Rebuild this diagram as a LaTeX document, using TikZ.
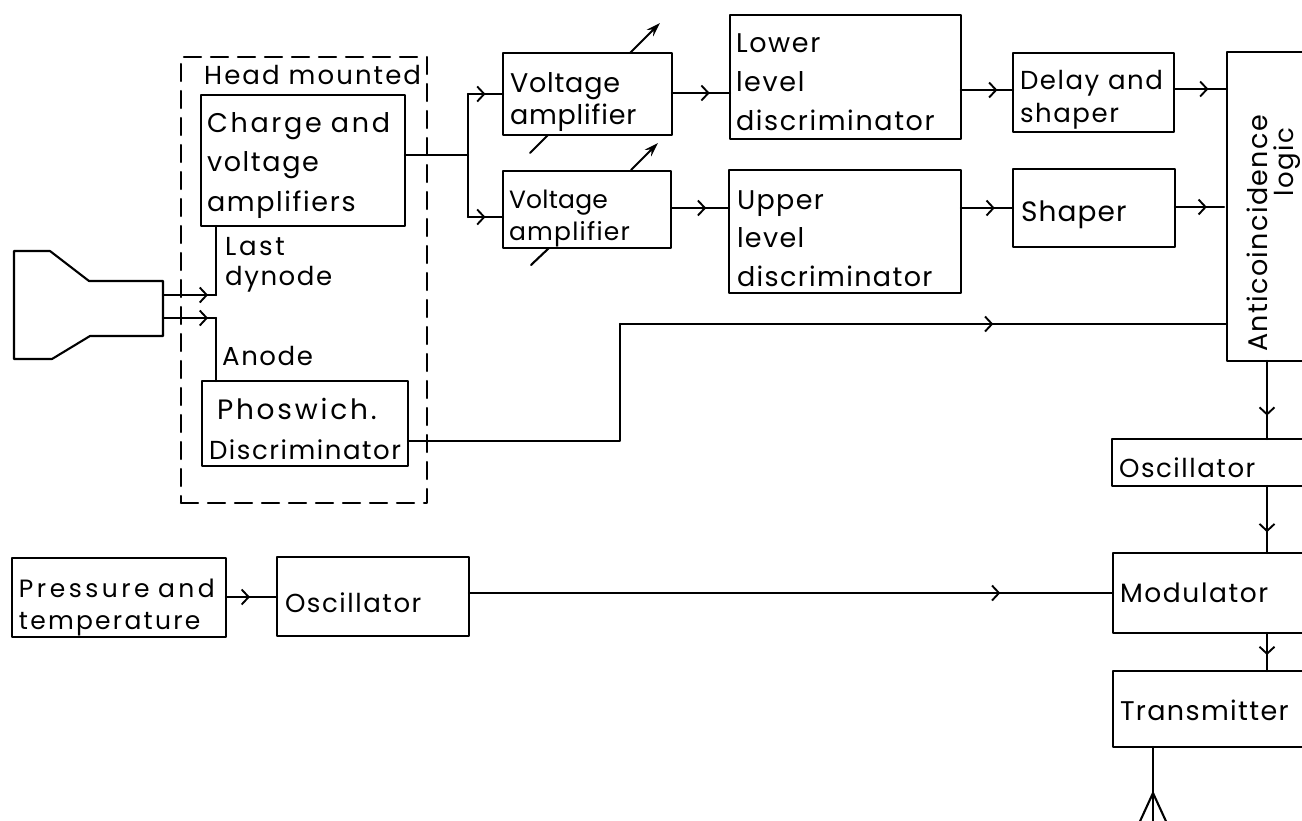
\documentclass[tikz,border=0pt]{standalone}
\usepackage{fontspec}
\setmainfont{Poppins}
\usetikzlibrary{arrows.meta,decorations.markings,calc}
\newcommand{\fs}[3]{\fontsize{#1}{#2}\selectfont\addfontfeature{LetterSpace=#3}}
\newcommand{\ls}[1]{\addfontfeature{LetterSpace=#1}}
\newcommand{\dn}[1]{\rule{0pt}{#1pt}}
\tikzset{
  ln/.style={line width=2.1pt,line cap=round,line join=round},
  box/.style={ln,draw,fill=white,rectangle,inner ysep=0pt,outer sep=0pt,align=left,font=\fs{27}{38}{6}},
  lab/.style={inner sep=0pt,anchor=west,align=left,font=\fs{26}{35}{6}},
  arr/.style={postaction={decorate},decoration={markings,mark=at position #1 with {\arrow[line width=1.9pt]{Straight Barb[length=7pt,width=15pt]}}}},
  tip/.style={-{Stealth[length=14pt,width=9pt]}}
}
\newcommand{\bx}[8][]{%
  \pgfmathsetmacro{\bw}{#6-#4}\pgfmathsetmacro{\bh}{#7-#5}%
  \pgfmathsetmacro{\bt}{\bw-2*#3}%
  \node[box,minimum width=\bw pt,minimum height=\bh pt,text width=\bt pt,inner xsep=#3 pt,#1] (#2) at ({(#4+#6)/2},{(#5+#7)/2}) {#8};}
\begin{document}
\begin{tikzpicture}[x=1pt,y=-1pt]
\useasboundingbox (0,0) rectangle (1302,820);
\clip (0,0) rectangle (1302,820);
% head-mounted enclosure
\node[ln,draw,dashed,dash pattern=on 17pt off 10pt,rectangle,minimum width=246pt,minimum height=446pt,inner sep=0pt] (head) at (304,280) {};
\node[lab,font=\fs{26}{28}{8}] (headl) at (204,75) {Head mounted};
% boxes
\bx[font=\fs{27}{39.5}{6}]{charge}{6}{201}{95}{405}{226}{\dn{30}{\ls{10}Charge and}\\voltage\\amplifiers}
\bx[font=\fs{26}{40}{6}]{phos}{7}{202}{381}{408}{466}{\dn{32}\hspace*{8pt}{\fontsize{28}{40}\selectfont\ls{10}Phoswich.}\\Discriminator}
\bx[font=\fs{27}{32}{3}]{va1}{7}{503}{53}{672}{135}{\dn{36}Voltage\\amplifier}
\bx[font=\fs{25}{32}{5}]{va2}{6}{503}{171}{671}{248}{\dn{36}{\ls{1}Voltage}\\amplifier}
\bx[font=\fs{27}{39}{6}]{lld}{6}{730}{15}{961}{139}{\dn{30}Lower\\level\\discriminator}
\bx[font=\fs{27}{38.5}{5}]{uld}{8}{729}{170}{961}{293}{\dn{33}Upper\\level\\discriminator}
\bx[font=\fs{26}{33}{6}]{delay}{7}{1013}{53}{1174}{132}{\dn{34}Delay and\\shaper}
\bx[font=\fs{28}{30}{4}]{shaper}{8}{1013}{169}{1175}{247}{\dn{34}Shaper}
\bx{anti}{4}{1227}{52}{1340}{361}{}
\bx[font=\fs{26}{30}{6}]{osc}{7}{1112}{439}{1340}{486}{\dn{30}Oscillator}
\bx[font=\fs{26.5}{30}{6}]{mod}{7}{1113}{553}{1340}{633}{Modulator}
\bx[font=\fs{27}{30}{5}]{trans}{7}{1113}{671}{1340}{747}{\dn{24}Transmitter}
\bx[font=\fs{25}{32}{9}]{press}{7}{12}{558}{226}{637}{\dn{38}\mbox{\ls{14}Pressure and}\\temperature}
\bx[font=\fs{26}{30}{6}]{osc2}{8}{277}{557}{469}{636}{\dn{32}Oscillator}
% labels
\node[lab,rotate=90,anchor=west,font=\fs{27}{30}{5}] (antil) at (1257,352) {Anticoincidence};
\node[lab,rotate=90,anchor=west,font=\fs{26}{30}{6}] (logicl) at (1287,197) {logic};
\node[lab,font=\fs{26}{35}{10}] (last) at (225,247) {Last};
\node[lab] (dyn) at (225,279) {dynode};
\node[lab] (anode) at (222,356) {Anode};
% photomultiplier
\node[inner sep=0pt] (pm) at (163,307) {};
\draw[ln] (14,251) -- (50,251) -- (89,281) -- (163,281) -- (pm.center) -- (163,336) -- (90,336) -- (52,359) -- (14,359) -- cycle;
% inputs from the tube
\coordinate (dy1) at (163,295); \coordinate (dy2) at (216,295); \coordinate (an1) at (163,318); \coordinate (an2) at (216,318);
\draw[ln,arr=0.85] (dy1) -- (dy2);
\draw[ln] (dy2) -- (dy2 |- charge.south);
\draw[ln,arr=0.85] (an1) -- (an2);
\draw[ln] (an2) -- (an2 |- phos.north);
% split
\coordinate (sp) at (468,155);
\draw[ln] (charge.east |- sp) -- (sp);
\coordinate (sp1) at (468,94); \coordinate (sp2) at (468,217);
\draw[ln] (sp1) -- (sp2);
\draw[ln,arr=0.5] (sp1) -- (va1.west |- sp1);
\draw[ln,arr=0.5] (sp2) -- (va2.west |- sp2);
% chains
\coordinate (a1) at (672,93); \coordinate (a2) at (672,208); \coordinate (a3) at (961,90); \coordinate (a4) at (961,208); \coordinate (a5) at (1174,89); \coordinate (a6) at (1175,207);
\draw[ln,arr=0.65] (a1) -- (lld.west |- a1);
\draw[ln,arr=0.6] (a2) -- (uld.west |- a2);
\draw[ln,arr=0.7] (a3) -- (delay.west |- a3);
\draw[ln,arr=0.65] (a4) -- (shaper.west |- a4);
\draw[ln,arr=0.65] (a5) -- (anti.west |- a5);
\draw[ln,arr=0.65] (a6) -- (1224,207);
% phoswich to anticoincidence
\coordinate (p1) at (408,441); \coordinate (p2) at (620,441); \coordinate (p3) at (620,324);
\draw[ln] (p1) -- (p2) -- (p3);
\draw[ln,arr=0.615] (p3) -- (anti.west |- p3);
% vertical chain
\coordinate (v) at (1267,400);
\draw[ln,arr=0.7] (v |- anti.south) -- (v |- osc.north);
\draw[ln,arr=0.69] (v |- osc.south) -- (v |- mod.north);
\draw[ln,arr=0.58] (v |- mod.south) -- (v |- trans.north);
% pressure chain
\coordinate (q1) at (226,597);
\draw[ln,arr=0.47] (q1) -- (osc2.west |- q1);
\draw[ln,arr=0.825] (osc2.east |- mod.west) -- (mod.west);
% variable-gain arrows
\draw[ln] (530,153) -- (548,135);
\draw[ln,tip] (630,53) -- (660,23);
\draw[ln] (531,265) -- (549,248);
\draw[ln,tip] (631,170) -- (658,143);
% antenna
\coordinate (t0) at (1153,747); \coordinate (t1) at (1153,793);
\draw[ln] (t0) -- (1153,830);
\draw[ln] (1136,830) -- (t1) -- (1170,830);
\end{tikzpicture}
\end{document}
